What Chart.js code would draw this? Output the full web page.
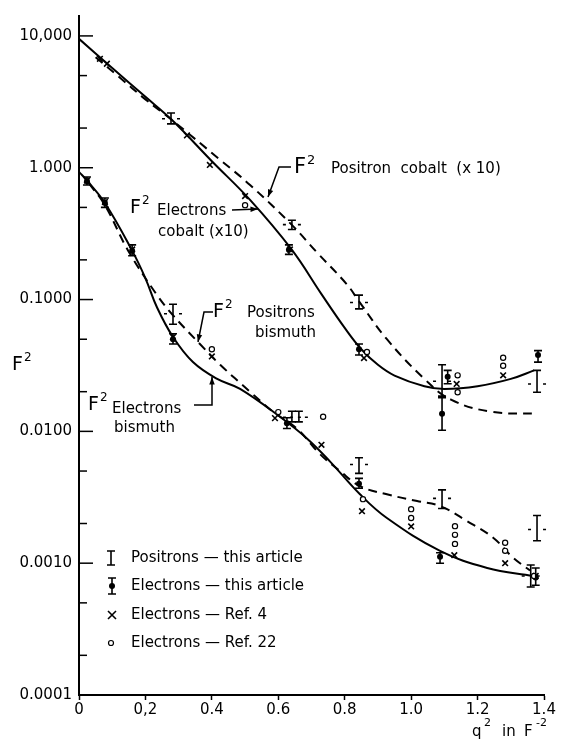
<!DOCTYPE html>
<html>
<head>
<meta charset="utf-8">
<script src="https://cdn.jsdelivr.net/npm/chart.js@4"></script>
<style>
  html, body { margin: 0; padding: 0; background: #fff; }
  #wrap { width: 568px; height: 740px; }
</style>
</head>
<body>
<div id="wrap"><canvas id="ffChart" width="568" height="740"></canvas></div>
<script>
// ========== DATA ==========
// axis ticks
const xTickValues = [0, 0.2, 0.4, 0.6, 0.8, 1.0, 1.2, 1.4];
const xTickLabels = ["0", "0,2", "0.4", "0.6", "0.8", "1.0", "1.2", "1.4"];
const yTickValues = [0.0001, 0.001, 0.01, 0.1, 1, 10];
const yTickLabels = ["0.0001", "0.0010", "0.0100", "0.1000", "1.000", "10,000"];
const yMinorValues = [0.0002, 0.0005, 0.002, 0.005, 0.02, 0.05, 0.2, 0.5, 2, 5];

// fitted curves (q^2 in F^-2, F^2)
const coEleCurveQ  = [0, 0.1, 0.2, 0.28, 0.4, 0.515, 0.64, 0.73, 0.8, 0.85, 0.9, 0.95, 1.04, 1.1, 1.2, 1.3, 1.37];
const coEleCurveF2 = [9.5, 5.7, 3.45, 2.3, 1.12, 0.57, 0.24, 0.11, 0.061, 0.042, 0.032, 0.0265, 0.022, 0.021, 0.022, 0.025, 0.029];
const coPosCurveQ  = [0.05, 0.12, 0.2, 0.28, 0.43, 0.515, 0.64, 0.717, 0.807, 0.843, 0.927, 1.04, 1.12, 1.24, 1.376];
const coPosCurveF2 = [6.9, 4.9, 3.3, 2.3, 1.12, 0.74, 0.37, 0.227, 0.13, 0.097, 0.05, 0.025, 0.0174, 0.0141, 0.0136];
const biEleCurveQ  = [0, 0.024, 0.078, 0.16, 0.2, 0.235, 0.283, 0.343, 0.416, 0.485, 0.605, 0.687, 0.756, 0.846, 0.927, 1.087, 1.229, 1.367];
const biEleCurveF2 = [0.93, 0.8, 0.54, 0.235, 0.145, 0.087, 0.052, 0.0336, 0.025, 0.021, 0.0129, 0.0088, 0.0059, 0.00333, 0.0022, 0.00124, 0.00092, 0.0008];
const biPosCurveQ  = [0.03, 0.078, 0.148, 0.235, 0.283, 0.364, 0.425, 0.515, 0.584, 0.656, 0.726, 0.786, 0.846, 0.927, 1.018, 1.087, 1.168, 1.247, 1.307, 1.358];
const biPosCurveF2 = [0.76, 0.52, 0.235, 0.108, 0.076, 0.046, 0.032, 0.020, 0.0141, 0.0105, 0.0067, 0.0050, 0.00384, 0.00333, 0.00296, 0.00271, 0.00209, 0.00156, 0.0011, 0.00088];

// positrons - this article (cobalt x10, then bismuth)
const posQ  = [0.277, 0.641, 0.843, 1.093, 1.379, 0.283, 0.641, 0.662, 0.843, 1.093, 1.36, 1.379];
const posF2 = [2.35, 0.37, 0.095, 0.024, 0.0229, 0.078, 0.0128, 0.0128, 0.0056, 0.0031, 0.0008, 0.0018];
const posLo = [2.15, 0.34, 0.085, 0.0185, 0.0198, 0.065, 0.0118, 0.0118, 0.0048, 0.0026, 0.00066, 0.00148];
const posHi = [2.6, 0.40, 0.108, 0.032, 0.029, 0.092, 0.0142, 0.0142, 0.0063, 0.0036, 0.00097, 0.0023];

// electrons - this article
const eleQ  = [0.632, 0.843, 1.093, 1.11, 1.382, 0.024, 0.078, 0.16, 0.283, 0.626, 0.843, 1.087, 1.375];
const eleF2 = [0.239, 0.042, 0.0136, 0.026, 0.038, 0.79, 0.54, 0.235, 0.05, 0.0115, 0.004, 0.00112, 0.00078];
const eleLo = [0.22, 0.038, 0.0102, 0.023, 0.0335, 0.74, 0.50, 0.215, 0.046, 0.0105, 0.0037, 0.001, 0.00068];
const eleHi = [0.26, 0.046, 0.018, 0.029, 0.041, 0.85, 0.59, 0.26, 0.055, 0.0127, 0.0044, 0.0012, 0.00092];

// electrons - Ref. 4
const ref4Q  = [0.063, 0.084, 0.325, 0.394, 0.5, 0.635, 0.858, 1.137, 1.277, 0.024, 0.078, 0.16, 0.283, 0.40, 0.59, 0.73, 0.852, 1.0, 1.13, 1.283, 1.375];
const ref4F2 = [6.7, 6.15, 1.76, 1.05, 0.61, 0.24, 0.036, 0.0229, 0.0266, 0.8, 0.55, 0.24, 0.052, 0.037, 0.0126, 0.0079, 0.00248, 0.0019, 0.00115, 0.001, 0.0008];

// electrons - Ref. 22
const ref22Q  = [0.5, 0.867, 1.14, 1.14, 1.277, 1.277, 0.40, 0.6, 0.735, 0.855, 1.0, 1.0, 1.132, 1.132, 1.132, 1.283, 1.283, 1.37];
const ref22F2 = [0.52, 0.040, 0.0266, 0.0198, 0.0362, 0.0315, 0.042, 0.014, 0.0129, 0.00306, 0.00257, 0.0022, 0.00191, 0.00164, 0.0014, 0.00143, 0.00124, 0.0008];

// ========== HELPERS ==========
const FONT = '"DejaVu Sans", sans-serif';
const toXY = (qs, vs) => qs.map((q, i) => ({ x: q, y: vs[i] }));

function curve(qs, vs, dashed) {
  return {
    type: "line",
    data: toXY(qs, vs),
    borderColor: "#000",
    borderWidth: 2,
    borderDash: dashed ? [9, 6] : [],
    pointRadius: 0,
    fill: false,
    tension: 0.4,
    showLine: true,
  };
}

function arrowHead(ctx, x0, y0, x1, y1) {
  const a = Math.atan2(y1 - y0, x1 - x0);
  ctx.beginPath();
  ctx.moveTo(x1, y1);
  ctx.lineTo(x1 - 8 * Math.cos(a - 0.35), y1 - 8 * Math.sin(a - 0.35));
  ctx.lineTo(x1 - 8 * Math.cos(a + 0.35), y1 - 8 * Math.sin(a + 0.35));
  ctx.closePath();
  ctx.fill();
}

function leader(ctx, pts) {
  ctx.beginPath();
  ctx.moveTo(pts[0][0], pts[0][1]);
  pts.slice(1).forEach((p) => ctx.lineTo(p[0], p[1]));
  ctx.stroke();
  const n = pts.length;
  arrowHead(ctx, pts[n - 2][0], pts[n - 2][1], pts[n - 1][0], pts[n - 1][1]);
}

// F with a superscript 2
function fLabel(ctx, x, y, size) {
  ctx.font = `${size}px ${FONT}`;
  ctx.fillText("F", x, y);
  const w = ctx.measureText("F").width;
  ctx.font = `${Math.round(size * 0.62)}px ${FONT}`;
  ctx.fillText("2", x + w + 1, y - size * 0.45);
}

function errorBar(ctx, x, yLo, yHi, cap) {
  ctx.beginPath();
  ctx.moveTo(x, yLo); ctx.lineTo(x, yHi);
  ctx.moveTo(x - cap, yLo); ctx.lineTo(x + cap, yLo);
  ctx.moveTo(x - cap, yHi); ctx.lineTo(x + cap, yHi);
  ctx.stroke();
}

// ── error bars, inward y ticks and all the lettering ─────────────────────────
const decorations = {
  id: "decorations",
  afterDatasetsDraw(chart) {
    const { ctx, chartArea } = chart;
    const xs = chart.scales.x;
    const ys = chart.scales.y;
    ctx.save();
    ctx.strokeStyle = "#000";
    ctx.fillStyle = "#000";
    ctx.lineWidth = 1.6;

    // positron bars: -I-
    posQ.forEach((q, i) => {
      const x = xs.getPixelForValue(q);
      errorBar(ctx, x, ys.getPixelForValue(posLo[i]), ys.getPixelForValue(posHi[i]), 4);
      const yc = ys.getPixelForValue(posF2[i]);
      ctx.beginPath();
      ctx.moveTo(x - 9, yc); ctx.lineTo(x - 6, yc);
      ctx.moveTo(x + 6, yc); ctx.lineTo(x + 9, yc);
      ctx.stroke();
    });
    // electron bars
    eleQ.forEach((q, i) => {
      const x = xs.getPixelForValue(q);
      errorBar(ctx, x, ys.getPixelForValue(eleLo[i]), ys.getPixelForValue(eleHi[i]), 4);
    });

    // inward ticks on the y axis
    ctx.lineWidth = 1.5;
    const left = chartArea.left;
    yTickValues.forEach((v) => {
      const y = ys.getPixelForValue(v);
      ctx.beginPath(); ctx.moveTo(left, y); ctx.lineTo(left + 14, y); ctx.stroke();
    });
    yMinorValues.forEach((v) => {
      const y = ys.getPixelForValue(v);
      ctx.beginPath(); ctx.moveTo(left, y); ctx.lineTo(left + 8, y); ctx.stroke();
    });

    // axis titles
    ctx.textAlign = "left";
    ctx.textBaseline = "alphabetic";
    fLabel(ctx, 12, 370, 19);
    ctx.font = `15px ${FONT}`;
    ctx.fillText("q", 472, 736);
    ctx.fillText("in", 502, 736);
    ctx.fillText("F", 524, 736);
    ctx.font = `11px ${FONT}`;
    ctx.fillText("2", 484, 726);
    ctx.fillText("-2", 536, 726);

    // curve labels
    ctx.lineWidth = 1.5;
    fLabel(ctx, 294, 173, 21);
    ctx.font = `15px ${FONT}`;
    ctx.fillText("Positron  cobalt  (x 10)", 331, 173);
    leader(ctx, [[291, 167], [279, 167], [268, 197]]);

    fLabel(ctx, 130, 213, 19);
    ctx.font = `15px ${FONT}`;
    ctx.fillText("Electrons", 157, 215);
    ctx.fillText("cobalt (x10)", 158, 236);
    leader(ctx, [[232, 210], [258, 209]]);

    fLabel(ctx, 213, 317, 19);
    ctx.font = `15px ${FONT}`;
    ctx.fillText("Positrons", 247, 317);
    ctx.fillText("bismuth", 255, 337);
    leader(ctx, [[213, 312], [204, 312], [198, 342]]);

    fLabel(ctx, 88, 410, 19);
    ctx.font = `15px ${FONT}`;
    ctx.fillText("Electrons", 112, 413);
    ctx.fillText("bismuth", 114, 432);
    leader(ctx, [[194, 405], [212, 405], [212, 377]]);

    // legend
    const rows = [
      "Positrons \u2014 this article",
      "Electrons \u2014 this article",
      "Electrons \u2014 Ref. 4",
      "Electrons \u2014 Ref. 22",
    ];
    const rowY = [558, 586, 615, 643];
    ctx.font = `15px ${FONT}`;
    ctx.textBaseline = "middle";
    rows.forEach((t, i) => ctx.fillText(t, 131, rowY[i]));
    ctx.lineWidth = 1.6;
    errorBar(ctx, 111, rowY[0] - 7, rowY[0] + 7, 4);
    errorBar(ctx, 112, rowY[1] - 8, rowY[1] + 8, 4);
    ctx.beginPath(); ctx.arc(112, rowY[1], 3, 0, Math.PI * 2); ctx.fill();
    ctx.beginPath();
    ctx.moveTo(108, rowY[2] - 4); ctx.lineTo(116, rowY[2] + 4);
    ctx.moveTo(116, rowY[2] - 4); ctx.lineTo(108, rowY[2] + 4);
    ctx.stroke();
    ctx.lineWidth = 1.2;
    ctx.beginPath(); ctx.arc(111, rowY[3], 2.5, 0, Math.PI * 2); ctx.stroke();

    ctx.restore();
  },
};

// ========== CHART ==========
const datasets = [
  {
    label: "Electrons - Ref. 22",
    data: toXY(ref22Q, ref22F2),
    pointStyle: "circle",
    pointRadius: 2.6,
    pointBorderWidth: 1.2,
    pointBorderColor: "#000",
    pointBackgroundColor: "#fff",
  },
  {
    label: "Electrons - Ref. 4",
    data: toXY(ref4Q, ref4F2),
    pointStyle: "crossRot",
    pointRadius: 4,
    pointBorderWidth: 1.6,
    pointBorderColor: "#000",
  },
  {
    label: "Electrons - this article",
    data: toXY(eleQ, eleF2),
    pointStyle: "circle",
    pointRadius: 3,
    pointBorderWidth: 0,
    pointBackgroundColor: "#000",
  },
  {
    label: "Positrons - this article",
    data: toXY(posQ, posF2),
    pointRadius: 0,
  },
  curve(coEleCurveQ, coEleCurveF2, false),
  curve(coPosCurveQ, coPosCurveF2, true),
  curve(biEleCurveQ, biEleCurveF2, false),
  curve(biPosCurveQ, biPosCurveF2, true),
];

const ctx = document.getElementById("ffChart").getContext("2d");
new Chart(ctx, {
  type: "scatter",
  data: { datasets },
  plugins: [decorations],
  options: {
    responsive: false,
    animation: false,
    layout: { padding: { top: 12, right: 24, left: 0, bottom: 0 } },
    plugins: { legend: { display: false }, tooltip: { enabled: false } },
    scales: {
      x: {
        type: "linear",
        min: 0,
        max: 1.4,
        afterBuildTicks: (s) => { s.ticks = xTickValues.map((v) => ({ value: v })); },
        afterFit: (s) => { s.height = 45; },
        ticks: {
          callback: (v, i) => xTickLabels[i],
          autoSkip: false,
          maxRotation: 0,
          padding: 1,
          color: "#000",
          font: { family: FONT, size: 15 },
        },
        grid: {
          drawOnChartArea: false,
          drawTicks: true,
          tickLength: 5,
          tickColor: "#000",
          tickWidth: 1.5,
        },
        border: { display: true, color: "#000", width: 2 },
      },
      y: {
        type: "logarithmic",
        min: 0.0001,
        max: 14.16,
        afterBuildTicks: (s) => { s.ticks = yTickValues.map((v) => ({ value: v })); },
        afterFit: (s) => { s.width = 79; },
        ticks: {
          callback: (v, i) => yTickLabels[i],
          autoSkip: false,
          padding: 7,
          color: "#000",
          font: { family: FONT, size: 15 },
        },
        grid: { display: false, drawTicks: false },
        border: { display: true, color: "#000", width: 2 },
      },
    },
  },
});
</script>
</body>
</html>
